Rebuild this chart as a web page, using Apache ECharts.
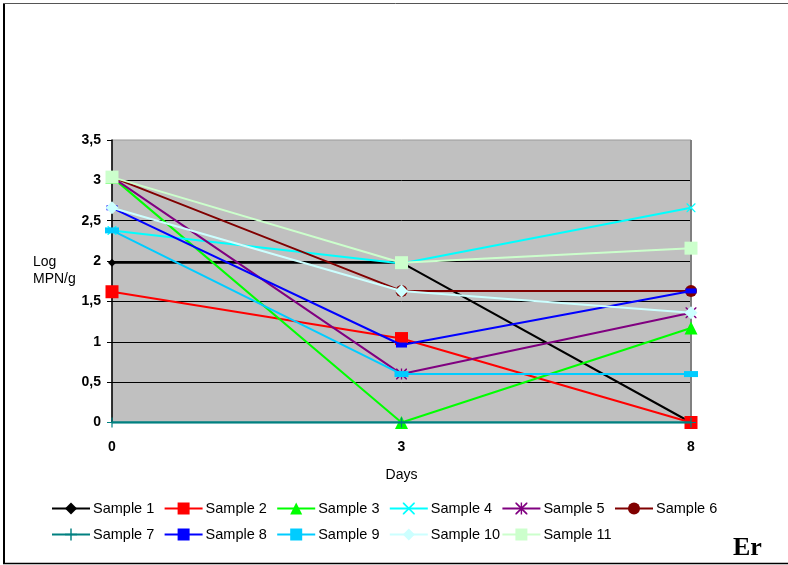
<!DOCTYPE html>
<html>
<head>
<meta charset="utf-8">
<script src="https://cdn.jsdelivr.net/npm/echarts@6/dist/echarts.min.js"></script>
<style>
  html, body { margin: 0; padding: 0; background: #fff; }
  #chart { width: 788px; height: 565px; }
</style>
</head>
<body>
<div id="chart"></div>
<script>
// Sampling days (category axis)
const days = ['0', '3', '8'];

// Log MPN/g per sample, one value per day
const sample1  = [1.98, 1.98, 0];
const sample2  = [1.62, 1.04, 0];
const sample3  = [3.04, 0, 1.17];
const sample4  = [2.38, 1.97, 2.66];
const sample5  = [3.04, 0.60, 1.36];
const sample6  = [3.04, 1.63, 1.63];
const sample7  = [0, 0, 0];
const sample8  = [2.66, 0.96, 1.63];
const sample9  = [2.38, 0.60, 0.60];
const sample10 = [2.66, 1.63, 1.36];
const sample11 = [3.04, 1.98, 2.16];

const sampleNames = ['Sample 1', 'Sample 2', 'Sample 3', 'Sample 4', 'Sample 5', 'Sample 6',
  'Sample 7', 'Sample 8', 'Sample 9', 'Sample 10', 'Sample 11'];
const sampleValues = [sample1, sample2, sample3, sample4, sample5, sample6,
  sample7, sample8, sample9, sample10, sample11];

// Marker shapes
const xMark = 'path://M0,0 L1,0 L5,4 L9,0 L10,0 L10,1 L6,5 L10,9 L10,10 L9,10 L5,6 L1,10 L0,10 L0,9 L4,5 L0,1 Z';
const starMark = xMark + ' M4.4,0 L5.6,0 L5.6,10 L4.4,10 Z';
const plusMark = 'path://M4.4,0 L5.6,0 L5.6,4.4 L10,4.4 L10,5.6 L5.6,5.6 L5.6,10 L4.4,10 L4.4,5.6 L0,5.6 L0,4.4 L4.4,4.4 Z';

const styles = [
  { color: '#000000', symbol: 'diamond', size: 8 },
  { color: '#FF0000', symbol: 'rect', size: 13 },
  { color: '#00FF00', symbol: 'triangle', size: 13 },
  { color: '#00FFFF', symbol: xMark, size: 9 },
  { color: '#800080', symbol: starMark, size: 11 },
  { color: '#800000', symbol: 'circle', size: 12 },
  { color: '#008080', symbol: plusMark, size: 10 },
  { color: '#0000FF', symbol: 'rect', size: [11, 5] },
  { color: '#00CCFF', symbol: 'rect', size: [14, 6] },
  { color: '#CCFFFF', symbol: 'diamond', size: 13 },
  { color: '#CCFFCC', symbol: 'rect', size: 13 }
];

const series = sampleNames.map((name, i) => ({
  name: name,
  type: 'line',
  data: sampleValues[i],
  symbol: styles[i].symbol,
  symbolSize: styles[i].size,
  showAllSymbol: true,
  animation: false,
  itemStyle: { color: styles[i].color },
  lineStyle: { color: styles[i].color, width: i === 6 ? 2.5 : 2 },
  z: 2 + i
}));

// One legend block per entry, laid out on a fixed two-row grid
const legends = sampleNames.map((name, i) => {
  const col = i < 6 ? i : i - 6;
  const row = i < 6 ? 0 : 1;
  return {
    data: [name],
    left: 51 + col * 112.6,
    top: row === 0 ? 501 : 527,
    padding: 0,
    itemWidth: 38,
    itemHeight: 15,
    selectedMode: false,
    textStyle: { fontFamily: 'Liberation Sans, Arial, sans-serif', fontSize: 14.5, color: '#000', padding: [0, 0, 0, -2] }
  };
});

const chart = echarts.init(document.getElementById('chart'), null, { renderer: 'canvas' });
chart.setOption({
  backgroundColor: '#ffffff',
  animation: false,
  legend: legends,
  grid: {
    left: 112, right: 97, top: 140, bottom: 142.5,
    show: true,
    backgroundColor: '#C0C0C0',
    borderColor: '#999999',
    borderWidth: 1,
    containLabel: false
  },
  xAxis: {
    type: 'category',
    data: days,
    boundaryGap: false,
    axisLine: { show: false },
    axisTick: { show: false },
    axisLabel: {
      margin: 18,
      color: '#000',
      fontWeight: 'bold',
      fontSize: 14,
      fontFamily: 'Liberation Sans, Arial, sans-serif'
    },
    splitLine: { show: false },
    name: 'Days',
    nameLocation: 'middle',
    nameGap: 46,
    nameTextStyle: { color: '#000', fontSize: 14, fontFamily: 'Liberation Sans, Arial, sans-serif' }
  },
  yAxis: {
    type: 'value',
    min: 0,
    max: 3.5,
    interval: 0.5,
    axisLine: { show: true, lineStyle: { color: '#000', width: 1.5 } },
    axisTick: { show: true, length: 5, lineStyle: { color: '#000' } },
    axisLabel: {
      margin: 11,
      color: '#000',
      fontWeight: 'bold',
      fontSize: 14,
      fontFamily: 'Liberation Sans, Arial, sans-serif',
      formatter: v => String(v).replace('.', ',')
    },
    splitLine: { show: true, showMaxLine: false, lineStyle: { color: '#000', width: 1 } }
  },
  graphic: [
    { type: 'line', shape: { x1: 4, y1: 3, x2: 4, y2: 564 }, style: { stroke: '#000', lineWidth: 2 }, silent: true },
    { type: 'line', shape: { x1: 3, y1: 3.5, x2: 788, y2: 3.5 }, style: { stroke: '#555', lineWidth: 1 }, silent: true },
    { type: 'line', shape: { x1: 3, y1: 563.5, x2: 788, y2: 563.5 }, style: { stroke: '#000', lineWidth: 1.5 }, silent: true },
    { type: 'line', shape: { x1: 691, y1: 140, x2: 691, y2: 422.5 }, style: { stroke: '#808080', lineWidth: 2 }, silent: true, z: 1 },
    {
      type: 'text', left: 33, top: 254,
      style: { text: 'Log\nMPN/g', fill: '#000', font: '14px "Liberation Sans", Arial, sans-serif', lineHeight: 17 }
    },
    {
      type: 'text', left: 733, top: 535,
      style: { text: 'Er', fill: '#000', font: 'bold 26px "Liberation Serif", "Times New Roman", serif' }
    }
  ],
  series: series
});
</script>
</body>
</html>
